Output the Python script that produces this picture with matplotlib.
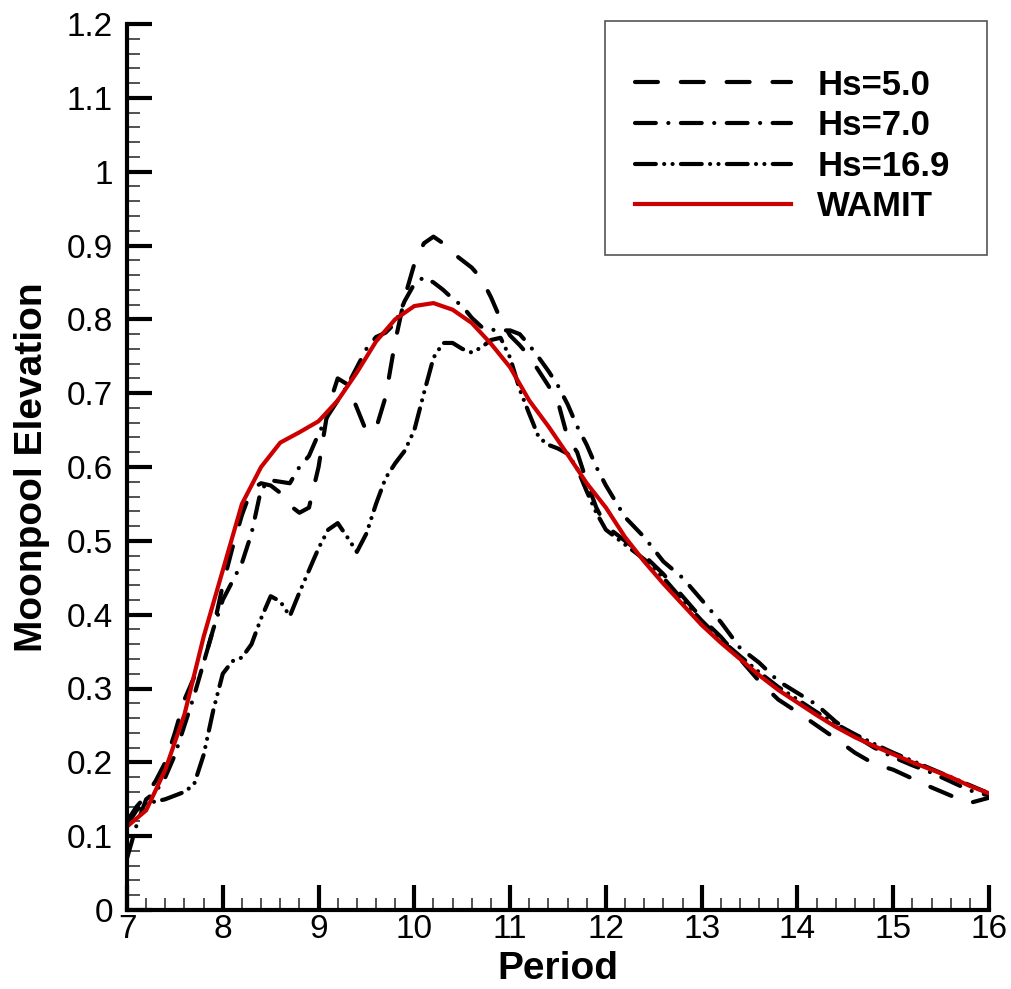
import numpy as np
import matplotlib
matplotlib.use("Agg")
import matplotlib.pyplot as plt
from matplotlib.patches import Rectangle
from matplotlib.ticker import MultipleLocator, FuncFormatter

plt.rcParams['font.family'] = ['Liberation Sans', 'DejaVu Sans']

# period grid for the measured curves
period = [7.0, 7.1, 7.2, 7.3, 7.4, 7.5, 7.6, 7.7, 7.8, 7.9, 8.0, 8.1, 8.2, 8.3, 8.4, 8.5,
          8.6, 8.7, 8.8, 8.9, 9.0, 9.1, 9.2, 9.3, 9.4, 9.5, 9.6, 9.7, 9.8, 9.9, 10.0, 10.1,
          10.2, 10.3, 10.4, 10.5, 10.6, 10.7, 10.8, 10.9, 11.0, 11.1, 11.2, 11.3, 11.4, 11.5,
          11.6, 11.7, 11.8, 11.9, 12.0, 12.2, 12.4, 12.6, 12.8, 13.0, 13.2, 13.4, 13.6, 13.8,
          14.0, 14.2, 14.4, 14.6, 14.8, 15.0, 15.2, 15.4, 15.6, 15.8, 16.0]

hs50 = [0.12, 0.14, 0.155, 0.175, 0.2, 0.24, 0.285, 0.315, 0.335, 0.38, 0.44, 0.49, 0.535, 0.57,
        0.578, 0.575, 0.565, 0.548, 0.538, 0.545, 0.6, 0.68, 0.72, 0.712, 0.68, 0.648, 0.652,
        0.695, 0.77, 0.83, 0.875, 0.903, 0.912, 0.903, 0.89, 0.88, 0.87, 0.855, 0.83, 0.8,
        0.778, 0.765, 0.75, 0.73, 0.71, 0.688, 0.64, 0.62, 0.58, 0.545, 0.52, 0.5, 0.48, 0.455,
        0.425, 0.395, 0.37, 0.34, 0.31, 0.285, 0.268, 0.25, 0.232, 0.213, 0.198, 0.19, 0.178,
        0.166, 0.155, 0.145, 0.152]

hs70 = [0.07, 0.115, 0.15, 0.16, 0.18, 0.21, 0.25, 0.29, 0.335, 0.38, 0.42, 0.445, 0.47, 0.51,
        0.57, 0.582, 0.58, 0.578, 0.6, 0.615, 0.645, 0.67, 0.69, 0.71, 0.735, 0.76, 0.776,
        0.782, 0.795, 0.825, 0.848, 0.857, 0.85, 0.84, 0.828, 0.818, 0.802, 0.79, 0.786, 0.785,
        0.785, 0.78, 0.765, 0.748, 0.73, 0.71, 0.685, 0.655, 0.63, 0.6, 0.575, 0.532, 0.505,
        0.472, 0.45, 0.42, 0.39, 0.355, 0.335, 0.31, 0.294, 0.278, 0.255, 0.236, 0.22, 0.207,
        0.196, 0.186, 0.174, 0.162, 0.155]

hs169 = [0.115, 0.135, 0.145, 0.147, 0.15, 0.155, 0.16, 0.17, 0.21, 0.27, 0.32, 0.337, 0.342,
         0.36, 0.395, 0.425, 0.418, 0.398, 0.43, 0.46, 0.49, 0.515, 0.524, 0.505, 0.485, 0.51,
         0.55, 0.585, 0.605, 0.622, 0.65, 0.7, 0.748, 0.768, 0.768, 0.76, 0.755, 0.762, 0.772,
         0.775, 0.748, 0.705, 0.672, 0.64, 0.63, 0.625, 0.618, 0.598, 0.567, 0.538, 0.515,
         0.495, 0.475, 0.45, 0.42, 0.392, 0.366, 0.344, 0.322, 0.302, 0.285, 0.268, 0.252,
         0.238, 0.225, 0.213, 0.202, 0.191, 0.18, 0.169, 0.158]

# WAMIT prediction (coarser grid)
wamit_t = [7.0, 7.2, 7.4, 7.6, 7.8, 8.0, 8.2, 8.4, 8.6, 8.8, 9.0, 9.2, 9.4, 9.6, 9.8, 10.0,
           10.2, 10.4, 10.6, 10.8, 11.0, 11.2, 11.4, 11.6, 11.8, 12.0, 12.2, 12.4, 12.6, 12.8,
           13.0, 13.2, 13.4, 13.6, 13.8, 14.0, 14.2, 14.4, 14.6, 14.8, 15.0, 15.2, 15.4, 15.6,
           15.8, 16.0]
wamit = [0.113, 0.135, 0.19, 0.265, 0.37, 0.46, 0.55, 0.60, 0.633, 0.647, 0.662, 0.69, 0.728,
         0.77, 0.80, 0.818, 0.822, 0.813, 0.795, 0.767, 0.735, 0.69, 0.655, 0.617, 0.578, 0.545,
         0.505, 0.472, 0.442, 0.414, 0.386, 0.362, 0.34, 0.318, 0.298, 0.281, 0.264, 0.248,
         0.234, 0.222, 0.211, 0.2, 0.19, 0.18, 0.168, 0.158]

W, H = 1012, 989
fig = plt.figure(figsize=(W / 100, H / 100), dpi=100)
ax = fig.add_axes([127 / W, 1 - 910 / H, (989 - 127) / W, (910 - 24) / H])

lw = 3
kw = dict(color='black', lw=lw, dash_capstyle='round', solid_capstyle='round')
l1, = ax.plot(period, hs50, dashes=(5.5, 5.5), label='Hs=5.0', **kw)
l2, = ax.plot(period, hs70, dashes=(5, 3, 0.01, 3), label='Hs=7.0', **kw)
l3, = ax.plot(period, hs169, dashes=(5, 2, 0.01, 2, 0.01, 2), label='Hs=16.9', **kw)
l4, = ax.plot(wamit_t, wamit, color='#cc0000', lw=lw, label='WAMIT')

ax.set_xlim(7, 16)
ax.set_ylim(0, 1.2)
ax.xaxis.set_major_locator(MultipleLocator(1))
ax.xaxis.set_minor_locator(MultipleLocator(0.2))
ax.yaxis.set_major_locator(MultipleLocator(0.1))
ax.yaxis.set_minor_locator(MultipleLocator(0.02))
ax.yaxis.set_major_formatter(FuncFormatter(lambda v, p: '%g' % round(v, 2)))

for s in ['top', 'right']:
    ax.spines[s].set_visible(False)
for s in ['left', 'bottom']:
    ax.spines[s].set_linewidth(3)

ax.tick_params(which='major', direction='in', length=18, width=3, labelsize=24)
ax.tick_params(which='minor', direction='in', length=9, width=1.2, color='#333333')
ax.tick_params(axis='y', which='major', pad=10)
ax.tick_params(axis='x', which='major', pad=3)

ax.set_xlabel('Period', fontsize=28, fontweight='bold', labelpad=4)
ax.set_ylabel('Moonpool Elevation', fontsize=28, fontweight='bold', labelpad=12)

# legend box drawn separately so its padding matches
fig.patches.append(Rectangle((605 / W, 1 - 255 / H), (987 - 605) / W, (255 - 21) / H,
                             transform=fig.transFigure, fill=False, ec='#555555', lw=1.2))
leg = fig.legend(handles=[l1, l2, l3, l4], loc='center left',
                 bbox_to_anchor=(635 / W, 1 - 146 / H), frameon=False,
                 prop={'size': 25, 'weight': 'bold'}, handlelength=4.5,
                 handletextpad=0.75, labelspacing=0.22, borderpad=0, borderaxespad=0)

fig.savefig('out.png', dpi=100)
